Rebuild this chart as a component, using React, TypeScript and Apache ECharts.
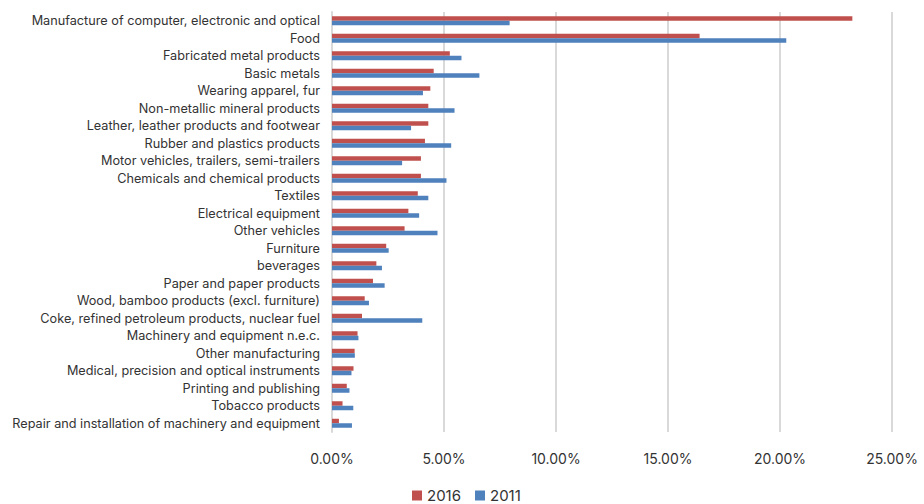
import React, { useEffect, useRef } from "react";
import * as echarts from "echarts";

const categories = [
  "Manufacture of computer, electronic and optical",
  "Food",
  "Fabricated metal products",
  "Basic metals",
  "Wearing apparel, fur",
  "Non-metallic mineral products",
  "Leather, leather products and footwear",
  "Rubber and plastics products",
  "Motor vehicles, trailers, semi-trailers",
  "Chemicals and chemical products",
  "Textiles",
  "Electrical equipment",
  "Other vehicles",
  "Furniture",
  "beverages",
  "Paper and paper products",
  "Wood, bamboo products (excl. furniture)",
  "Coke, refined petroleum products, nuclear fuel",
  "Machinery and equipment n.e.c.",
  "Other manufacturing",
  "Medical, precision and optical instruments",
  "Printing and publishing",
  "Tobacco products",
  "Repair and installation of machinery and equipment",
];

const values2016 = [
  23.23, 16.41, 5.26, 4.54, 4.39, 4.3, 4.3, 4.15, 3.97, 3.97, 3.83, 3.41,
  3.24, 2.42, 1.98, 1.83, 1.46, 1.34, 1.14, 1.01, 0.96, 0.66, 0.47, 0.31,
];

const values2011 = [
  7.93, 20.28, 5.78, 6.58, 4.06, 5.47, 3.53, 5.32, 3.13, 5.11, 4.3, 3.89,
  4.71, 2.53, 2.23, 2.35, 1.65, 4.03, 1.18, 1.02, 0.87, 0.78, 0.95, 0.89,
];

const seriesNames = ["2016", "2011"];
const FONT = "Inter";

export default function App() {
  const ref = useRef<HTMLDivElement>(null);
  useEffect(() => {
    document.body.style.margin = "0";
    if (!ref.current) return;
    const chart = echarts.init(ref.current, null, { renderer: "svg" });
    chart.setOption({
      animation: false,
      textStyle: { fontFamily: FONT },
      legend: {
        data: seriesNames,
        bottom: -4,
        left: 407,
        itemWidth: 10,
        itemHeight: 10,
        itemGap: 14,
        icon: "rect",
        textStyle: { fontSize: 15, color: "#333333", fontFamily: FONT },
      },
      grid: { left: 332, right: 32, top: 12, bottom: 72 },
      xAxis: {
        type: "value",
        min: 0,
        max: 25,
        interval: 5,
        axisLine: { show: false },
        axisTick: { show: false },
        splitLine: { show: true, lineStyle: { color: "#d9d9d9", width: 2 } },
        axisLabel: {
          margin: 19,
          fontSize: 14,
          color: "#333333",
          fontFamily: FONT,
          formatter: (v: number) => v.toFixed(2) + "%",
        },
      },
      yAxis: {
        type: "category",
        data: categories,
        inverse: true,
        axisLine: { show: true, lineStyle: { color: "#d9d9d9", width: 2 } },
        axisTick: { show: false },
        axisLabel: {
          margin: 12,
          fontSize: 12.7,
          color: "#333333",
          fontFamily: FONT,
        },
      },
      series: [
        {
          name: seriesNames[0],
          type: "bar",
          data: values2016,
          barWidth: 4.5,
          barGap: "0%",
          itemStyle: { color: "#c0504d" },
        },
        {
          name: seriesNames[1],
          type: "bar",
          data: values2011,
          barWidth: 4.5,
          barGap: "0%",
          itemStyle: { color: "#4f81bd" },
        },
      ],
    });
    return () => chart.dispose();
  }, []);
  return <div ref={ref} style={{ width: 924, height: 504 }} />;
}
